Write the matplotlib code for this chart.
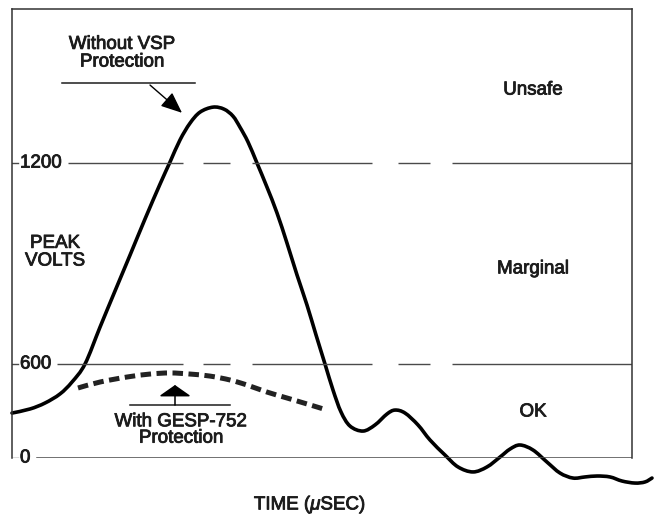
import numpy as np
import matplotlib.pyplot as plt
import matplotlib.patheffects as pe
from matplotlib.path import Path
from matplotlib.patches import PathPatch

plt.rcParams['font.family'] = ['Liberation Sans', 'DejaVu Sans']
plt.rcParams['mathtext.fontset'] = 'custom'
plt.rcParams['mathtext.it'] = 'Liberation Sans:italic'

# surge without protection (arbitrary time units, volts)
time_vsp = [0.0, 1.8, 3.3, 4.8, 6.0, 7.3, 8.8, 10.3, 11.8, 13.3, 14.8, 15.8,
            16.8, 17.8, 18.8, 20.1, 21.2, 22.1, 22.8, 23.6, 24.5, 25.5, 26.5,
            27.5, 28.5, 29.5, 30.4, 31.3, 32.1, 32.9, 33.8, 35.1,
            36.3, 37.5, 38.3, 39.3, 40.6, 41.8, 43.3, 44.6, 46.1, 47.5,
            48.8, 49.8, 50.8, 52.1, 53.5, 54.8, 56.1, 57.3, 58.5, 59.8, 61.0,
            62.3, 63.3, 64.0]
volts_vsp = [287, 313, 351, 409, 485, 600, 710, 818, 925, 1033, 1137, 1203,
             1269, 1319, 1352, 1367, 1361, 1340, 1307, 1263, 1200, 1128, 1051,
             961, 866, 776, 687, 600, 434, 294, 204, 172,
             211, 281, 306, 287, 211, 115, 19, -57, -89, -57,
             6, 57, 83, 51, -26, -96, -128, -121, -115, -121, -147,
             -160, -153, -128]

# surge with GESP-752
time_gesp = [6.6, 8.8, 11.5, 13.8, 15.8, 17.8, 19.8, 21.8, 23.5, 25.5, 27.5, 29.5, 31.5]
volts_gesp = [447, 485, 517, 536, 543, 536, 523, 498, 466, 421, 383, 345, 306]

ytick_vals = [0, 600, 1200]
ytick_labels = ['0', '600', '1200']
zones = ['Unsafe', 'Marginal', 'OK']
zone_volts = [1418, 884, 294]


# the drawing squeezes 0-600 compared to 600-1200
def fwd(v):
    v = np.asarray(v, dtype=float)
    return np.where(v <= 600, v * 94 / 600, 94 + (v - 600) * 201 / 600)


def inv(h):
    h = np.asarray(h, dtype=float)
    return np.where(h <= 94, h * 600 / 94, 600 + (h - 94) * 600 / 201)


fig = plt.figure(figsize=(6.58, 5.17), dpi=100)
ax = fig.add_axes([12 / 658, 59 / 517, 620 / 658, 449 / 517])
ax.set_yscale('function', functions=(fwd, inv))
ax.set_xlim(0, 62)
ax.set_ylim(0, 1660)


def smooth_path(xs, ys):
    # pass a smooth bezier through the read points, in scaled space
    p = ax.transScale.transform(np.column_stack([xs, ys]))
    ext = np.vstack([p[0], p, p[-1]])
    verts = [p[0]]
    codes = [Path.MOVETO]
    for i in range(len(p) - 1):
        p0, p1, p2, p3 = ext[i], ext[i + 1], ext[i + 2], ext[i + 3]
        verts += [p1 + (p2 - p0) / 6, p2 - (p3 - p1) / 6, p2]
        codes += [Path.CURVE4] * 3
    return Path(verts, codes)


ink = '#1c1c1c'
grey = '#4a4a4a'
fx = [pe.withStroke(linewidth=0.6, foreground=ink)]
tkw = dict(fontsize=13.5, color=ink, path_effects=fx)

for s in ['left', 'top', 'right']:
    ax.spines[s].set_color('#333333')
    ax.spines[s].set_linewidth(1.1)
ax.spines['bottom'].set_visible(False)
ax.set_xticks([])
ax.set_yticks([])

# broken reference lines at 600 and 1200
for v, x0 in zip([600, 1200], [4.5, 5.6]):
    for a, b in [(x0, 17.1), (19.1, 21.8), (24.0, 36.0), (38.6, 41.8), (44.0, 62.0)]:
        ax.plot([a, b], [v, v], color=grey, lw=1.0, solid_capstyle='butt')
ax.plot([2.5, 62.0], [0, 0], color=grey, lw=1.1)

for v, lab in zip(ytick_vals, ytick_labels):
    ax.plot([0, 0.6], [v, v], color=grey, lw=1.0)
    ax.text(0.8, v, lab, ha='left', va='center', **tkw)

tr = ax.transLimits + ax.transAxes
ax.add_patch(PathPatch(smooth_path(time_vsp, volts_vsp), transform=tr,
                       fill=False, ec='black', lw=2.6, clip_on=False,
                       capstyle='round', joinstyle='round'))
ax.add_patch(PathPatch(smooth_path(time_gesp, volts_gesp), transform=tr,
                       fill=False, ec='#222222', lw=3.6,
                       linestyle=(0, (2.1, 1.1)), capstyle='butt'))

for z, v in zip(zones, zone_volts):
    ax.text(52.1, v, z, ha='center', va='center', **tkw)

ax.text(4.3, 934, 'PEAK\nVOLTS', ha='center', va='center', linespacing=1.05, **tkw)

ax.text(11.0, 1528, 'Without VSP\nProtection', ha='center', va='center',
        linespacing=1.05, **tkw)
ax.plot([5.0, 18.3], [1439, 1439], color=ink, lw=1.1)
ax.annotate('', xy=(17.0, 1350), xytext=(13.8, 1433),
            arrowprops=dict(arrowstyle='-|>,head_length=1.3,head_width=0.55',
                            color='black', lw=1.0, shrinkA=0, shrinkB=0))

ax.text(16.9, 179, 'With GESP-752\nProtection', ha='center', va='center',
        linespacing=0.95, **tkw)
ax.plot([11.8, 21.8], [338, 338], color=ink, lw=1.1)
ax.annotate('', xy=(16.3, 466), xytext=(16.3, 338),
            arrowprops=dict(arrowstyle='-|>,head_length=0.7,head_width=1.0',
                            color='black', lw=1.1, shrinkA=0, shrinkB=0))

fig.text(310 / 658, 1 - 505 / 517, r'TIME ($\mathit{\mu}$SEC)', ha='center',
         va='center', **tkw)

fig.savefig('out.png', dpi=100)
